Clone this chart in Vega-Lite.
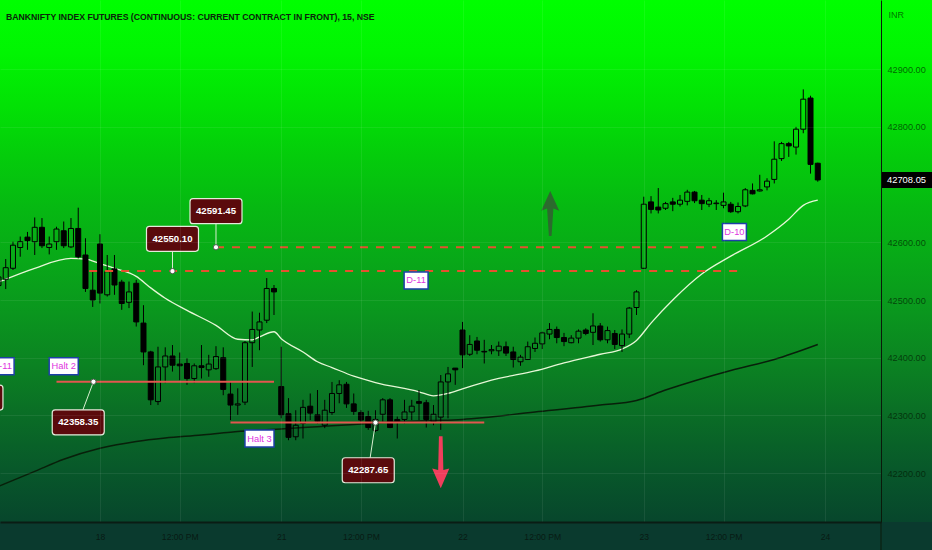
{
  "$schema": "https://vega.github.io/schema/vega-lite/v6.json",
  "width": 881,
  "height": 522,
  "autosize": {"type": "none"},
  "padding": {"left": 0, "top": 0, "right": 51, "bottom": 28},
  "background": "#0a3a2e",
  "config": {
    "view": {"stroke": null},
    "font": "Liberation Sans, Arial, sans-serif"
  },
  "title": {
    "text": "BANKNIFTY INDEX FUTURES (CONTINUOUS: CURRENT CONTRACT IN FRONT), 15, NSE",
    "anchor": "start",
    "frame": "group",
    "orient": "top",
    "offset": -29,
    "dx": 6,
    "baseline": "alphabetic",
    "fontSize": 8.7,
    "fontWeight": "bold",
    "color": "#0b240b",
    "font": "Liberation Sans, Arial, sans-serif"
  },
  "datasets": {
    "candles": [
      {"i": -14, "o": 42525, "h": 42552, "l": 42515, "c": 42540},
      {"i": -13, "o": 42536, "h": 42571, "l": 42519, "c": 42556},
      {"i": -12, "o": 42555, "h": 42601, "l": 42552, "c": 42595},
      {"i": -11, "o": 42591, "h": 42610, "l": 42575, "c": 42601},
      {"i": -10, "o": 42609, "h": 42618, "l": 42587, "c": 42603},
      {"i": -9, "o": 42601, "h": 42643, "l": 42578, "c": 42626},
      {"i": -8, "o": 42626, "h": 42642, "l": 42590, "c": 42594},
      {"i": -7, "o": 42591, "h": 42610, "l": 42579, "c": 42597},
      {"i": -6, "o": 42601, "h": 42627, "l": 42587, "c": 42623},
      {"i": -5, "o": 42620, "h": 42636, "l": 42590, "c": 42594},
      {"i": -4, "o": 42592, "h": 42642, "l": 42590, "c": 42624},
      {"i": -3, "o": 42624, "h": 42660, "l": 42572, "c": 42575},
      {"i": -2, "o": 42578, "h": 42607, "l": 42514, "c": 42520},
      {"i": -1, "o": 42517, "h": 42549, "l": 42488, "c": 42500},
      {"i": 0, "o": 42597, "h": 42614, "l": 42494, "c": 42512},
      {"i": 1, "o": 42509, "h": 42578, "l": 42506, "c": 42549},
      {"i": 2, "o": 42554, "h": 42578, "l": 42509, "c": 42526},
      {"i": 3, "o": 42531, "h": 42535, "l": 42483, "c": 42494},
      {"i": 4, "o": 42496, "h": 42532, "l": 42486, "c": 42514},
      {"i": 5, "o": 42529, "h": 42535, "l": 42454, "c": 42462},
      {"i": 6, "o": 42460, "h": 42491, "l": 42387, "c": 42410},
      {"i": 7, "o": 42410, "h": 42412, "l": 42318, "c": 42327},
      {"i": 8, "o": 42324, "h": 42419, "l": 42318, "c": 42384},
      {"i": 9, "o": 42384, "h": 42418, "l": 42356, "c": 42403},
      {"i": 10, "o": 42403, "h": 42422, "l": 42376, "c": 42387},
      {"i": 11, "o": 42389, "h": 42409, "l": 42361, "c": 42386},
      {"i": 12, "o": 42390, "h": 42399, "l": 42353, "c": 42364},
      {"i": 13, "o": 42364, "h": 42390, "l": 42356, "c": 42386},
      {"i": 14, "o": 42386, "h": 42422, "l": 42364, "c": 42383},
      {"i": 15, "o": 42379, "h": 42405, "l": 42367, "c": 42389},
      {"i": 16, "o": 42381, "h": 42420, "l": 42379, "c": 42402},
      {"i": 17, "o": 42400, "h": 42418, "l": 42335, "c": 42345},
      {"i": 18, "o": 42337, "h": 42358, "l": 42292, "c": 42318},
      {"i": 19, "o": 42318, "h": 42347, "l": 42301, "c": 42320},
      {"i": 20, "o": 42323, "h": 42429, "l": 42318, "c": 42426},
      {"i": 21, "o": 42426, "h": 42480, "l": 42384, "c": 42449},
      {"i": 22, "o": 42448, "h": 42478, "l": 42413, "c": 42462},
      {"i": 23, "o": 42465, "h": 42538, "l": 42460, "c": 42520},
      {"i": 24, "o": 42520, "h": 42526, "l": 42474, "c": 42514},
      {"i": 25, "o": 42350, "h": 42419, "l": 42295, "c": 42301},
      {"i": 26, "o": 42303, "h": 42330, "l": 42257, "c": 42262},
      {"i": 27, "o": 42263, "h": 42309, "l": 42257, "c": 42283},
      {"i": 28, "o": 42286, "h": 42327, "l": 42260, "c": 42314},
      {"i": 29, "o": 42316, "h": 42338, "l": 42292, "c": 42304},
      {"i": 30, "o": 42301, "h": 42344, "l": 42286, "c": 42290},
      {"i": 31, "o": 42283, "h": 42327, "l": 42278, "c": 42309},
      {"i": 32, "o": 42305, "h": 42358, "l": 42301, "c": 42338},
      {"i": 33, "o": 42338, "h": 42361, "l": 42321, "c": 42353},
      {"i": 34, "o": 42354, "h": 42358, "l": 42313, "c": 42320},
      {"i": 35, "o": 42320, "h": 42338, "l": 42301, "c": 42307},
      {"i": 36, "o": 42305, "h": 42309, "l": 42286, "c": 42292},
      {"i": 37, "o": 42298, "h": 42308, "l": 42275, "c": 42279},
      {"i": 38, "o": 42274, "h": 42309, "l": 42271, "c": 42293},
      {"i": 39, "o": 42302, "h": 42330, "l": 42289, "c": 42327},
      {"i": 40, "o": 42327, "h": 42330, "l": 42278, "c": 42279},
      {"i": 41, "o": 42293, "h": 42298, "l": 42260, "c": 42289},
      {"i": 42, "o": 42293, "h": 42327, "l": 42286, "c": 42306},
      {"i": 43, "o": 42306, "h": 42327, "l": 42292, "c": 42316},
      {"i": 44, "o": 42324, "h": 42344, "l": 42292, "c": 42321},
      {"i": 45, "o": 42322, "h": 42327, "l": 42279, "c": 42293},
      {"i": 46, "o": 42289, "h": 42318, "l": 42283, "c": 42302},
      {"i": 47, "o": 42297, "h": 42370, "l": 42275, "c": 42358},
      {"i": 48, "o": 42358, "h": 42384, "l": 42295, "c": 42372},
      {"i": 49, "o": 42382, "h": 42382, "l": 42353, "c": 42379},
      {"i": 50, "o": 42448, "h": 42462, "l": 42382, "c": 42405},
      {"i": 51, "o": 42406, "h": 42439, "l": 42403, "c": 42423},
      {"i": 52, "o": 42429, "h": 42436, "l": 42406, "c": 42413},
      {"i": 53, "o": 42411, "h": 42431, "l": 42390, "c": 42410},
      {"i": 54, "o": 42412, "h": 42422, "l": 42406, "c": 42414},
      {"i": 55, "o": 42412, "h": 42428, "l": 42403, "c": 42420},
      {"i": 56, "o": 42419, "h": 42428, "l": 42403, "c": 42408},
      {"i": 57, "o": 42410, "h": 42419, "l": 42383, "c": 42397},
      {"i": 58, "o": 42393, "h": 42405, "l": 42386, "c": 42401},
      {"i": 59, "o": 42397, "h": 42428, "l": 42396, "c": 42419},
      {"i": 60, "o": 42416, "h": 42435, "l": 42410, "c": 42425},
      {"i": 61, "o": 42424, "h": 42445, "l": 42415, "c": 42443},
      {"i": 62, "o": 42441, "h": 42460, "l": 42432, "c": 42449},
      {"i": 63, "o": 42449, "h": 42454, "l": 42425, "c": 42435},
      {"i": 64, "o": 42435, "h": 42443, "l": 42420, "c": 42428},
      {"i": 65, "o": 42426, "h": 42439, "l": 42425, "c": 42434},
      {"i": 66, "o": 42434, "h": 42449, "l": 42425, "c": 42446},
      {"i": 67, "o": 42448, "h": 42451, "l": 42439, "c": 42442},
      {"i": 68, "o": 42444, "h": 42477, "l": 42422, "c": 42455},
      {"i": 69, "o": 42455, "h": 42460, "l": 42428, "c": 42431},
      {"i": 70, "o": 42431, "h": 42454, "l": 42425, "c": 42447},
      {"i": 71, "o": 42442, "h": 42448, "l": 42415, "c": 42423},
      {"i": 72, "o": 42421, "h": 42449, "l": 42410, "c": 42441},
      {"i": 73, "o": 42441, "h": 42488, "l": 42434, "c": 42486},
      {"i": 74, "o": 42487, "h": 42517, "l": 42474, "c": 42514},
      {"i": 75, "o": 42555, "h": 42679, "l": 42554, "c": 42666},
      {"i": 76, "o": 42670, "h": 42680, "l": 42650, "c": 42657},
      {"i": 77, "o": 42661, "h": 42694, "l": 42650, "c": 42656},
      {"i": 78, "o": 42659, "h": 42670, "l": 42656, "c": 42667},
      {"i": 79, "o": 42670, "h": 42677, "l": 42654, "c": 42666},
      {"i": 80, "o": 42666, "h": 42682, "l": 42662, "c": 42673},
      {"i": 81, "o": 42671, "h": 42691, "l": 42664, "c": 42687},
      {"i": 82, "o": 42687, "h": 42689, "l": 42668, "c": 42672},
      {"i": 83, "o": 42673, "h": 42682, "l": 42656, "c": 42667},
      {"i": 84, "o": 42666, "h": 42677, "l": 42661, "c": 42672},
      {"i": 85, "o": 42667, "h": 42673, "l": 42656, "c": 42668},
      {"i": 86, "o": 42664, "h": 42686, "l": 42659, "c": 42670},
      {"i": 87, "o": 42666, "h": 42670, "l": 42651, "c": 42653},
      {"i": 88, "o": 42653, "h": 42669, "l": 42650, "c": 42662},
      {"i": 89, "o": 42663, "h": 42694, "l": 42661, "c": 42691},
      {"i": 90, "o": 42690, "h": 42702, "l": 42683, "c": 42684},
      {"i": 91, "o": 42689, "h": 42717, "l": 42688, "c": 42691},
      {"i": 92, "o": 42696, "h": 42711, "l": 42690, "c": 42706},
      {"i": 93, "o": 42709, "h": 42775, "l": 42702, "c": 42744},
      {"i": 94, "o": 42745, "h": 42774, "l": 42741, "c": 42771},
      {"i": 95, "o": 42771, "h": 42774, "l": 42748, "c": 42767},
      {"i": 96, "o": 42765, "h": 42800, "l": 42752, "c": 42796},
      {"i": 97, "o": 42796, "h": 42865, "l": 42789, "c": 42848},
      {"i": 98, "o": 42850, "h": 42854, "l": 42719, "c": 42735},
      {"i": 99, "o": 42737, "h": 42738, "l": 42705, "c": 42708.05}
    ],
    "maFast": [
      {"i": -14, "v": 42531}, {"i": -9, "v": 42555}, {"i": -4, "v": 42572}, {"i": -2, "v": 42571},
      {"i": 0, "v": 42563}, {"i": 2, "v": 42555}, {"i": 5, "v": 42541}, {"i": 7, "v": 42521},
      {"i": 9, "v": 42503}, {"i": 12, "v": 42482}, {"i": 16, "v": 42456}, {"i": 19, "v": 42432},
      {"i": 21, "v": 42431}, {"i": 22, "v": 42436}, {"i": 24, "v": 42445}, {"i": 25, "v": 42433},
      {"i": 28, "v": 42410}, {"i": 30, "v": 42393}, {"i": 32, "v": 42383}, {"i": 35, "v": 42368},
      {"i": 38, "v": 42357}, {"i": 44, "v": 42341}, {"i": 46, "v": 42334}, {"i": 48, "v": 42338},
      {"i": 50, "v": 42346}, {"i": 55, "v": 42364}, {"i": 60, "v": 42377}, {"i": 64, "v": 42391},
      {"i": 69, "v": 42406}, {"i": 72, "v": 42415}, {"i": 74, "v": 42430}, {"i": 76, "v": 42460},
      {"i": 79, "v": 42500}, {"i": 83, "v": 42545}, {"i": 87, "v": 42576}, {"i": 92, "v": 42611},
      {"i": 95, "v": 42640}, {"i": 97, "v": 42664}, {"i": 99, "v": 42673}
    ],
    "maSlow": [
      {"i": -14, "v": 42177}, {"i": -9, "v": 42203}, {"i": -5, "v": 42224}, {"i": 0, "v": 42243},
      {"i": 5, "v": 42255}, {"i": 9, "v": 42261}, {"i": 14, "v": 42266}, {"i": 18, "v": 42271},
      {"i": 23, "v": 42275}, {"i": 28, "v": 42279}, {"i": 32, "v": 42282}, {"i": 37, "v": 42286},
      {"i": 41, "v": 42289}, {"i": 46, "v": 42291}, {"i": 50, "v": 42293}, {"i": 60, "v": 42306},
      {"i": 69, "v": 42318}, {"i": 74, "v": 42326}, {"i": 78, "v": 42344}, {"i": 87, "v": 42378},
      {"i": 93, "v": 42397}, {"i": 99, "v": 42423}
    ],
    "levels": [
      {"kind": "dash", "p": 42550.10, "i1": -1.5, "i2": 88.5},
      {"kind": "dash", "p": 42591.45, "i1": 16, "i2": 85},
      {"kind": "solid", "p": 42358.35, "i1": -6, "i2": 24},
      {"kind": "solid", "p": 42287.65, "i1": 18, "i2": 53}
    ],
    "pins": [
      {"i": 10, "p": 42550.10, "li": 10, "lp": 42606},
      {"i": 16, "p": 42591.45, "li": 16, "lp": 42654},
      {"i": -0.9, "p": 42358.35, "li": -3, "lp": 42288},
      {"i": 38, "p": 42287.65, "li": 37, "lp": 42205}
    ],
    "boxes": [
      {"label": "42550.10", "li": 10, "lp": 42606},
      {"label": "42591.45", "li": 16, "lp": 42654},
      {"label": "42358.35", "li": -3, "lp": 42288},
      {"label": "42287.65", "li": 37, "lp": 42205},
      {"label": "", "li": -16.97, "lp": 42331}
    ],
    "tags": [
      {"kind": "wide", "label": "Halt 2", "i": -5, "p": 42385},
      {"kind": "wide", "label": "Halt 3", "i": 22, "p": 42260},
      {"kind": "narrow", "label": "D-11", "i": 43.6, "p": 42534},
      {"kind": "narrow", "label": "D-10", "i": 87.5, "p": 42618},
      {"kind": "narrow", "label": "D-11", "i": -13.5, "p": 42385}
    ],
    "arrows": [
      {"dir": "up", "i": 62.1, "p": 42650},
      {"dir": "down", "i": 47, "p": 42219}
    ],
    "last": [
      {"label": "42708.05", "i": 111.24, "p": 42708.05}
    ]
  },
  "layer": [
    {
      "data": {"values": [{}]},
      "mark": {
        "type": "rect",
        "clip": false,
        "fill": {
          "gradient": "linear", "x1": 0, "y1": 0, "x2": 0, "y2": 1,
          "stops": [
            {"offset": 0, "color": "#00ff00"},
            {"offset": 0.1, "color": "#01f502"},
            {"offset": 0.2, "color": "#02e205"},
            {"offset": 0.3, "color": "#04cc0b"},
            {"offset": 0.4, "color": "#06b812"},
            {"offset": 0.5, "color": "#08a818"},
            {"offset": 0.6, "color": "#0a961e"},
            {"offset": 0.7, "color": "#0b8222"},
            {"offset": 0.8, "color": "#0a6c26"},
            {"offset": 0.9, "color": "#08582a"},
            {"offset": 1, "color": "#07462c"}
          ]
        }
      },
      "encoding": {
        "x": {"datum": -13.79, "type": "quantitative", "scale": {"domain": [-13.79, 107.72], "nice": false, "zero": false, "padding": 0}},
        "x2": {"datum": 114.76},
        "y": {"datum": 43019.9, "type": "quantitative", "scale": {"domain": [42115.3, 43019.9], "nice": false, "zero": false, "padding": 0}},
        "y2": {"datum": 42115.3}
      }
    },
    {
      "data": {"values": [{}]},
      "mark": {"type": "rule", "clip": false, "color": "#0a1a0a", "strokeWidth": 1},
      "encoding": {
        "x": {"datum": 107.72, "type": "quantitative"},
        "y": {"datum": 42115.3, "type": "quantitative"},
        "y2": {"datum": 42066.8}
      }
    },
    {
      "data": {"name": "maSlow"},
      "mark": {"type": "line", "color": "#08200a", "strokeWidth": 1.5, "interpolate": "monotone", "clip": true},
      "encoding": {
        "x": {"field": "i", "type": "quantitative"},
        "y": {"field": "v", "type": "quantitative"}
      }
    },
    {
      "data": {"name": "maFast"},
      "mark": {"type": "line", "color": "#e6f7d6", "strokeWidth": 1.3, "interpolate": "monotone", "clip": true},
      "encoding": {
        "x": {"field": "i", "type": "quantitative"},
        "y": {"field": "v", "type": "quantitative"}
      }
    },
    {
      "data": {"name": "candles"},
      "mark": {"type": "rule", "color": "#000000", "strokeWidth": 1, "clip": true},
      "encoding": {
        "x": {"field": "i", "type": "quantitative"},
        "y": {"field": "h", "type": "quantitative"},
        "y2": {"field": "c"}
      }
    },
    {
      "data": {"name": "candles"},
      "mark": {"type": "rule", "color": "#000000", "strokeWidth": 1, "clip": true},
      "encoding": {
        "x": {"field": "i", "type": "quantitative"},
        "y": {"field": "o", "type": "quantitative"},
        "y2": {"field": "l"}
      }
    },
    {
      "data": {"name": "candles"},
      "mark": {"type": "bar", "width": 5, "stroke": "#000000", "strokeWidth": 1, "clip": true},
      "encoding": {
        "x": {
          "field": "i", "type": "quantitative",
          "axis": {
            "title": null,
            "values": [-14, 0, 11, 25, 36, 50, 61, 75, 86, 100],
            "labelExpr": "datum.value == 0 ? '18' : datum.value == 25 ? '21' : datum.value == 50 ? '22' : datum.value == 75 ? '23' : datum.value == 100 ? '24' : '12:00 PM'",
            "labelFlush": false,
            "labelOverlap": false,
            "labelFontSize": 8.6,
            "labelColor": "#081a14",
            "labelPadding": 10,
            "ticks": false,
            "domain": true,
            "domainColor": "#0a1c14",
            "domainWidth": 2,
            "grid": true,
            "gridColor": "#ffffff",
            "gridOpacity": 0.07,
            "zindex": 1
          }
        },
        "y": {
          "field": "o", "type": "quantitative",
          "axis": {
            "orient": "right",
            "title": "INR",
            "titleAngle": 0,
            "titleX": 7,
            "titleY": 14,
            "titleAlign": "left",
            "titleBaseline": "middle",
            "titleFontWeight": "normal",
            "titleFontSize": 9,
            "titleColor": "rgba(0,20,0,0.62)",
            "values": [42200, 42300, 42400, 42500, 42600, 42800, 42900],
            "format": ".2f",
            "labelAlign": "left",
            "labelPadding": 6,
            "labelFontSize": 9.2,
            "labelColor": "rgba(0,20,0,0.66)",
            "ticks": false,
            "domain": true,
            "domainColor": "#0a1a0a",
            "domainWidth": 1,
            "grid": true,
            "gridColor": "#ffffff",
            "gridOpacity": 0.07,
            "zindex": 1
          }
        },
        "y2": {"field": "c"},
        "fill": {
          "condition": {"test": "datum.c < datum.o", "value": "#000000"},
          "value": "transparent"
        }
      }
    },
    {
      "data": {"name": "levels"},
      "transform": [{"filter": "datum.kind == 'dash'"}],
      "mark": {"type": "rule", "color": "#e5502f", "strokeWidth": 2, "strokeDash": [8, 8], "clip": true},
      "encoding": {
        "x": {"field": "i1", "type": "quantitative"},
        "x2": {"field": "i2"},
        "y": {"field": "p", "type": "quantitative"}
      }
    },
    {
      "data": {"name": "levels"},
      "transform": [{"filter": "datum.kind == 'solid'"}],
      "mark": {"type": "rule", "color": "#e2574f", "strokeWidth": 2, "clip": true},
      "encoding": {
        "x": {"field": "i1", "type": "quantitative"},
        "x2": {"field": "i2"},
        "y": {"field": "p", "type": "quantitative"}
      }
    },
    {
      "data": {"name": "pins"},
      "mark": {"type": "rule", "color": "#d8efd0", "strokeWidth": 1},
      "encoding": {
        "x": {"field": "i", "type": "quantitative"},
        "x2": {"field": "li"},
        "y": {"field": "p", "type": "quantitative"},
        "y2": {"field": "lp"}
      }
    },
    {
      "data": {"name": "pins"},
      "mark": {"type": "point", "filled": true, "fill": "#ffffff", "stroke": "#4a5a4a", "strokeWidth": 1, "size": 28, "opacity": 1},
      "encoding": {
        "x": {"field": "i", "type": "quantitative"},
        "y": {"field": "p", "type": "quantitative"}
      }
    },
    {
      "data": {"name": "boxes"},
      "mark": {
        "type": "point", "filled": true, "opacity": 1,
        "fill": "#5a0a0c", "stroke": "#e4ecdc", "strokeWidth": 1.2, "size": 625,
        "shape": "M-1.84,-1 H1.84 Q2.08,-1 2.08,-0.76 V0.76 Q2.08,1 1.84,1 H-1.84 Q-2.08,1 -2.08,0.76 V-0.76 Q-2.08,-1 -1.84,-1 Z"
      },
      "encoding": {
        "x": {"field": "li", "type": "quantitative"},
        "y": {"field": "lp", "type": "quantitative"}
      }
    },
    {
      "data": {"name": "boxes"},
      "transform": [{"filter": "datum.label != ''"}],
      "mark": {"type": "text", "color": "#ffffff", "fontSize": 9.6, "fontWeight": "bold", "align": "center", "baseline": "middle"},
      "encoding": {
        "x": {"field": "li", "type": "quantitative"},
        "y": {"field": "lp", "type": "quantitative"},
        "text": {"field": "label"}
      }
    },
    {
      "data": {"name": "tags"},
      "transform": [{"filter": "datum.kind == 'wide'"}],
      "mark": {
        "type": "point", "filled": true, "opacity": 1,
        "fill": "#ffffff", "stroke": "#1e3fa8", "strokeWidth": 1.5, "size": 289,
        "shape": "M-1.71,-1 H1.71 V1 H-1.71 Z"
      },
      "encoding": {
        "x": {"field": "i", "type": "quantitative"},
        "y": {"field": "p", "type": "quantitative"}
      }
    },
    {
      "data": {"name": "tags"},
      "transform": [{"filter": "datum.kind == 'narrow'"}],
      "mark": {
        "type": "point", "filled": true, "opacity": 1,
        "fill": "#ffffff", "stroke": "#1e3fa8", "strokeWidth": 1.5, "size": 289,
        "shape": "M-1.41,-1 H1.41 V1 H-1.41 Z"
      },
      "encoding": {
        "x": {"field": "i", "type": "quantitative"},
        "y": {"field": "p", "type": "quantitative"}
      }
    },
    {
      "data": {"name": "tags"},
      "mark": {"type": "text", "color": "#e032e0", "fontSize": 9.3, "align": "center", "baseline": "middle"},
      "encoding": {
        "x": {"field": "i", "type": "quantitative"},
        "y": {"field": "p", "type": "quantitative"},
        "text": {"field": "label"}
      }
    },
    {
      "data": {"name": "arrows"},
      "transform": [{"filter": "datum.dir == 'up'"}],
      "mark": {
        "type": "point", "filled": true, "opacity": 1, "fill": "#2c6a2e", "strokeWidth": 0, "size": 2025,
        "shape": "M0,-1 L0.4,-0.12 L0.14,-0.22 L0.06,1 L-0.06,1 L-0.14,-0.22 L-0.4,-0.12 Z"
      },
      "encoding": {
        "x": {"field": "i", "type": "quantitative"},
        "y": {"field": "p", "type": "quantitative"}
      }
    },
    {
      "data": {"name": "arrows"},
      "transform": [{"filter": "datum.dir == 'down'"}],
      "mark": {
        "type": "point", "filled": true, "opacity": 1, "fill": "#f23e5c", "strokeWidth": 0, "size": 2704,
        "shape": "M0,1 L-0.33,0.24 L-0.1,0.3 L-0.07,-1 L0.07,-1 L0.1,0.3 L0.33,0.24 Z"
      },
      "encoding": {
        "x": {"field": "i", "type": "quantitative"},
        "y": {"field": "p", "type": "quantitative"}
      }
    },
    {
      "data": {"name": "last"},
      "mark": {
        "type": "point", "filled": true, "opacity": 1, "fill": "#000000", "strokeWidth": 0, "size": 256, "clip": false,
        "shape": "M-3.19,-1 H3.19 V1 H-3.19 Z"
      },
      "encoding": {
        "x": {"field": "i", "type": "quantitative"},
        "y": {"field": "p", "type": "quantitative"}
      }
    },
    {
      "data": {"name": "last"},
      "mark": {"type": "text", "color": "#ffffff", "fontSize": 9.4, "align": "center", "baseline": "middle", "clip": false},
      "encoding": {
        "x": {"field": "i", "type": "quantitative"},
        "y": {"field": "p", "type": "quantitative"},
        "text": {"field": "label"}
      }
    }
  ]
}
